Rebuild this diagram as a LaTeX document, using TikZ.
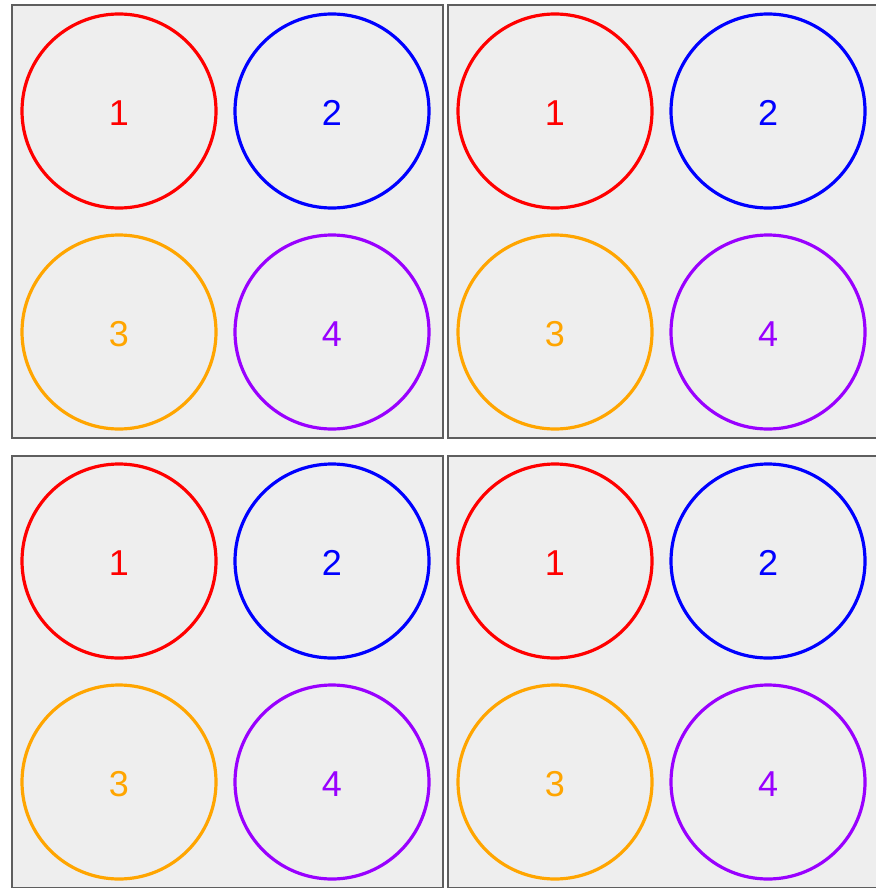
\documentclass[tikz,border=0pt]{standalone}
\usepackage{fontspec}
\setmainfont{Liberation Sans}
\definecolor{cred}{HTML}{FF0000}
\definecolor{cblue}{HTML}{0000FF}
\definecolor{corange}{HTML}{FFA500}
\definecolor{cpurple}{HTML}{9900FF}
\definecolor{panelfill}{HTML}{EEEEEE}
\definecolor{panelline}{HTML}{5E5E5E}
\tikzset{
  panel/.style={draw=panelline, fill=panelfill, line width=2pt},
  ring/.style={circle, draw=#1, line width=3.2pt, minimum size=194pt, inner sep=0pt},
  num/.style={text=#1, font=\fontsize{36}{38}\selectfont, inner sep=0pt},
}
\begin{document}
\begin{tikzpicture}[x=1pt,y=-1pt]
\useasboundingbox (0,0) rectangle (875,888);
\fill[white] (0,0) rectangle (875,888);
\foreach \px/\py/\pn in {0/0/a,436/0/b,0/450/c,436/450/d}{
  \begin{scope}[shift={(\px,\py)}]
    \path[panel] (11.5,5.5) rectangle (443,437.5);
    \node[ring=cred]    (\pn1) at (119,111) {};
    \node[ring=cblue]   (\pn2) at (332,111) {};
    \node[ring=corange] (\pn3) at (119,332) {};
    \node[ring=cpurple] (\pn4) at (332,332) {};
    \node[num=cred]    (\pn t1) at (119,113) {1};
    \node[num=cblue]   (\pn t2) at (332,113) {2};
    \node[num=corange] (\pn t3) at (119,334) {3};
    \node[num=cpurple] (\pn t4) at (332,334) {4};
  \end{scope}
}
\end{tikzpicture}
\end{document}
